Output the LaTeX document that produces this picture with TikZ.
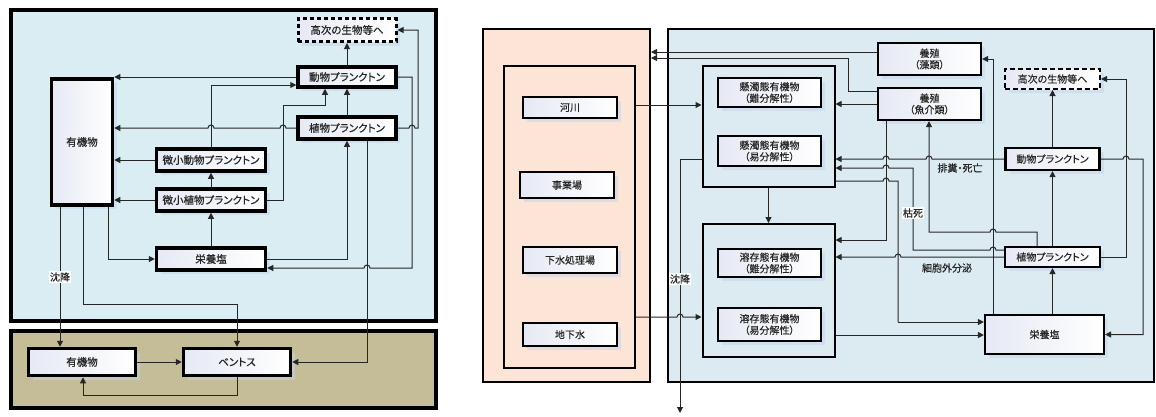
\documentclass[tikz,border=0pt]{standalone}
\usepackage{fontspec}
\setmainfont[RawFeature={+palt}]{Noto Sans CJK JP}
\newfontfamily\jpleft[RawFeature={+palt},FakeBold=0.7]{Noto Sans CJK JP}
\newfontfamily\jpright[RawFeature={+palt},FakeBold=0.3]{Noto Sans CJK JP}
\usetikzlibrary{arrows.meta,shadows}
\definecolor{bluebg}{HTML}{DAEDF3}
\definecolor{bluebgb}{HTML}{DCEBF2}
\definecolor{tanbg}{HTML}{C4BD97}
\definecolor{peachbg}{HTML}{FCE4D6}
\definecolor{shadowc}{HTML}{C3D4EA}
\definecolor{boxgrad}{HTML}{E6E9F4}
\definecolor{txt}{HTML}{262626}
\tikzset{
  lbox/.style={draw=black, line width=3.5pt, left color=boxgrad, right color=white,
    drop shadow={shadow xshift=4pt, shadow yshift=-4pt, fill=shadowc},
    font=\jpleft\fontsize{10.5}{12}\selectfont, text=txt, inner sep=0pt, align=center},
  ldash/.style={lbox, dash pattern=on 4pt off 3pt, line width=3pt},
  rbox/.style={lbox, line width=2.2pt, font=\jpright\fontsize{10}{11.5}\selectfont},
  rdash/.style={rbox, dash pattern=on 5pt off 3pt, line width=2pt},
  grp/.style={draw=black, line width=2pt, inner sep=0pt},
  conn/.style={line width=1pt, draw=black!85},
  arr/.style={conn, -{Triangle[length=6pt,width=6pt]}},
  lab/.style={font=\jpright\fontsize{10}{11}\selectfont, text=txt, inner sep=1pt},
}
\begin{document}
\begin{tikzpicture}[x=1pt,y=-1pt]
\path[use as bounding box] (0,0) rectangle (1156,416);
% ---------------- left diagram ----------------
\node[grp, line width=4pt, fill=bluebg, minimum width=425, minimum height=311] (lwater) at (223.5,165.5) {};
\node[grp, line width=4pt, fill=tanbg, minimum width=425, minimum height=77] (lbed) at (223.5,369.5) {};

\node[ldash, minimum width=98, minimum height=23] (lhigh) at (347,30) {高次の生物等へ};
\node[lbox, minimum width=98, minimum height=20] (lzoo) at (347,77) {動物プランクトン};
\node[lbox, minimum width=98, minimum height=22] (lphy) at (347,128) {植物プランクトン};
\node[lbox, minimum width=61, minimum height=126] (lorg) at (82,142) {有機物};
\node[lbox, minimum width=109, minimum height=22] (lmzoo) at (211,160) {微小動物プランクトン};
\node[lbox, minimum width=109, minimum height=22] (lmphy) at (211,200) {微小植物プランクトン};
\node[lbox, minimum width=109, minimum height=22] (lnut) at (211,259) {栄養塩};
\node[lbox, minimum width=107, minimum height=27] (lborg) at (82,362) {有機物};
\node[lbox, minimum width=107, minimum height=27] (lben) at (237,362) {ベントス};

\draw[arr] (lzoo.north) -- (lhigh.south);
\draw[arr] (lzoo.west) -- (lorg.east |- lzoo.west);
\draw[arr] (lphy.west) -- (286,128) arc[start angle=0,end angle=180,radius=3pt]
  -- (214,128) arc[start angle=0,end angle=180,radius=3pt] -- (lorg.east |- lphy.west);
\draw[arr] (lmzoo.north) -- (211,85) -- (lzoo.west |- 0,85);
\draw[arr] (lmphy.east) -- (283,200) -- (283,105) -- (325,105) -- (lzoo.south -| 325,0);
\draw[arr] (lphy.north) -- (lzoo.south);
\draw[arr] (lmphy.north) -- (lmzoo.south);
\draw[arr] (lnut.north) -- (lmphy.south);
\draw[arr] (lmzoo.west) -- (lorg.east |- lmzoo.west);
\draw[arr] (lmphy.west) -- (lorg.east |- lmphy.west);
\draw[arr] (lnut.east) -- (347,259) -- (lphy.south);
\draw[arr] (lzoo.east) -- (412,77) -- (412,268) -- (370,268) arc[start angle=0,end angle=180,radius=3pt] -- (lnut.east |- 0,268);
\draw[arr] (lphy.east) -- (409,128) arc[start angle=180,end angle=0,radius=3pt] -- (418,128) -- (418,30) -- (lhigh.east);
\draw[arr] (lphy.south -| 367,0) -- (367,362) -- (lben.east);
\draw[arr] (lorg.south -| 60,0) -- (lborg.north -| 60,0);
\node[lab, fill=white] (lsink) at (60,277) {沈降};
\draw[arr] (lorg.south -| 83,0) -- (83,304) -- (237,304) -- (lben.north);
\draw[arr] (lorg.south -| 108,0) -- (108,259) -- (lnut.west);
\draw[arr] (lborg.east) -- (lben.west);
\draw[arr] (lben.south) -- (237,395) -- (83,395) -- (lborg.south -| 83,0);

% ---------------- right diagram ----------------
\node[grp, fill=peachbg, minimum width=167, minimum height=353] (srcout) at (566.5,205.5) {};
\node[grp, fill=peachbg, minimum width=131, minimum height=302] (src) at (569.5,217) {};
\node[grp, fill=bluebgb, minimum width=486, minimum height=353] (rwater) at (911,205.5) {};
\node[grp, fill=bluebgb, minimum width=132, minimum height=121] (sus) at (768.5,126.5) {};
\node[grp, fill=bluebgb, minimum width=132, minimum height=133] (dis) at (768.5,290.5) {};

\node[rbox, minimum width=94, minimum height=21] (rriv) at (570,107.5) {河川};
\node[rbox, minimum width=94, minimum height=26] (rbiz) at (567,185) {事業場};
\node[rbox, minimum width=94, minimum height=26] (rsew) at (570,260) {下水処理場};
\node[rbox, minimum width=94, minimum height=23] (rgw) at (570,334.5) {地下水};

\node[rbox, minimum width=103, minimum height=29] (rsus1) at (769.5,92.5) {懸濁態有機物\\（難分解性）};
\node[rbox, minimum width=103, minimum height=30] (rsus2) at (769.5,151) {懸濁態有機物\\（易分解性）};
\node[rbox, minimum width=103, minimum height=28] (rdis1) at (769.5,263) {溶存態有機物\\（難分解性）};
\node[rbox, minimum width=103, minimum height=33] (rdis2) at (769.5,324.5) {溶存態有機物\\（易分解性）};

\node[rbox, minimum width=103, minimum height=32] (ralg) at (929.5,59) {養殖\\（藻類）};
\node[rbox, minimum width=103, minimum height=32] (rfish) at (929.5,104) {養殖\\（魚介類）};
\node[rdash, minimum width=95, minimum height=20] (rhigh) at (1052.5,79) {高次の生物等へ};
\node[rbox, minimum width=94, minimum height=22] (rzoo) at (1052.5,159) {動物プランクトン};
\node[rbox, minimum width=95, minimum height=20] (rphy) at (1052.5,257) {植物プランクトン};
\node[rbox, minimum width=119, minimum height=39] (rnut) at (1044.5,334.5) {栄養塩};

\draw[arr] (src.east |- 0,105) -- (sus.west |- 0,105);
\draw[arr] (src.east |- 0,317) -- (677,317) arc[start angle=180,end angle=0,radius=3pt] -- (dis.west |- 0,317);
\draw[arr] (sus.west |- 0,159) -- (680,159) -- (680,413);
\node[lab, fill=white] (rsink) at (680,279) {沈降};
\draw[arr] (sus.south) -- (dis.north);
\draw[arr] (ralg.west |- 0,52) -- (srcout.east |- 0,52);
\draw[arr] (rfish.west |- 0,91) -- (848,91) -- (848,58) -- (srcout.east |- 0,58);
\draw[arr] (rfish.west) -- (sus.east |- rfish.west);
\draw[arr] (rnut.north -| 993,0) -- (993,59) -- (ralg.east);
\draw[arr] (rphy.north -| 1037,0) -- (1037,232) -- (996,232) arc[start angle=0,end angle=180,radius=3pt] -- (929,232) -- (rfish.south -| 929,0);
\draw[arr] (rfish.south -| 886,0) -- (886,240) -- (dis.east |- 0,240);
\draw[arr] (rzoo.west) -- (932,159) arc[start angle=0,end angle=180,radius=3pt]
  -- (889,159) arc[start angle=0,end angle=180,radius=3pt] -- (sus.east |- 0,159);
\draw[arr] (rphy.west |- 0,250) -- (996,250) arc[start angle=0,end angle=180,radius=3pt]
  -- (913,250) -- (913,168) -- (889,168) arc[start angle=0,end angle=180,radius=3pt] -- (sus.east |- 0,168);
\draw[conn] (sus.east |- 0,181) -- (883,181) arc[start angle=180,end angle=0,radius=3pt] -- (898,181) -- (898,322);
\draw[arr] (898,322) -- (rnut.west |- 0,322);
\draw[arr] (rphy.west) -- (901,257) arc[start angle=0,end angle=180,radius=3pt] -- (dis.east |- 0,257);
\draw[arr] (dis.east |- 0,335) -- (rnut.west |- 0,335);
\draw[arr] (rnut.north -| rphy.south) -- (rphy.south);
\draw[arr] (rphy.north) -- (rzoo.south);
\draw[arr] (rzoo.north) -- (rhigh.south);
\draw[arr] (rphy.east) -- (1126,257) -- (1126,79) -- (rhigh.east);
\draw[arr] (rzoo.east) -- (1123,159) arc[start angle=180,end angle=0,radius=3pt] -- (1143,159) -- (1143,334.5) -- (rnut.east);

\node[lab, fill=white] (rdie) at (913,213) {枯死};
\node[lab] (rexc) at (960,168) {排糞・死亡};
\node[lab] (rsec) at (947,268) {細胞外分泌};
\end{tikzpicture}
\end{document}
